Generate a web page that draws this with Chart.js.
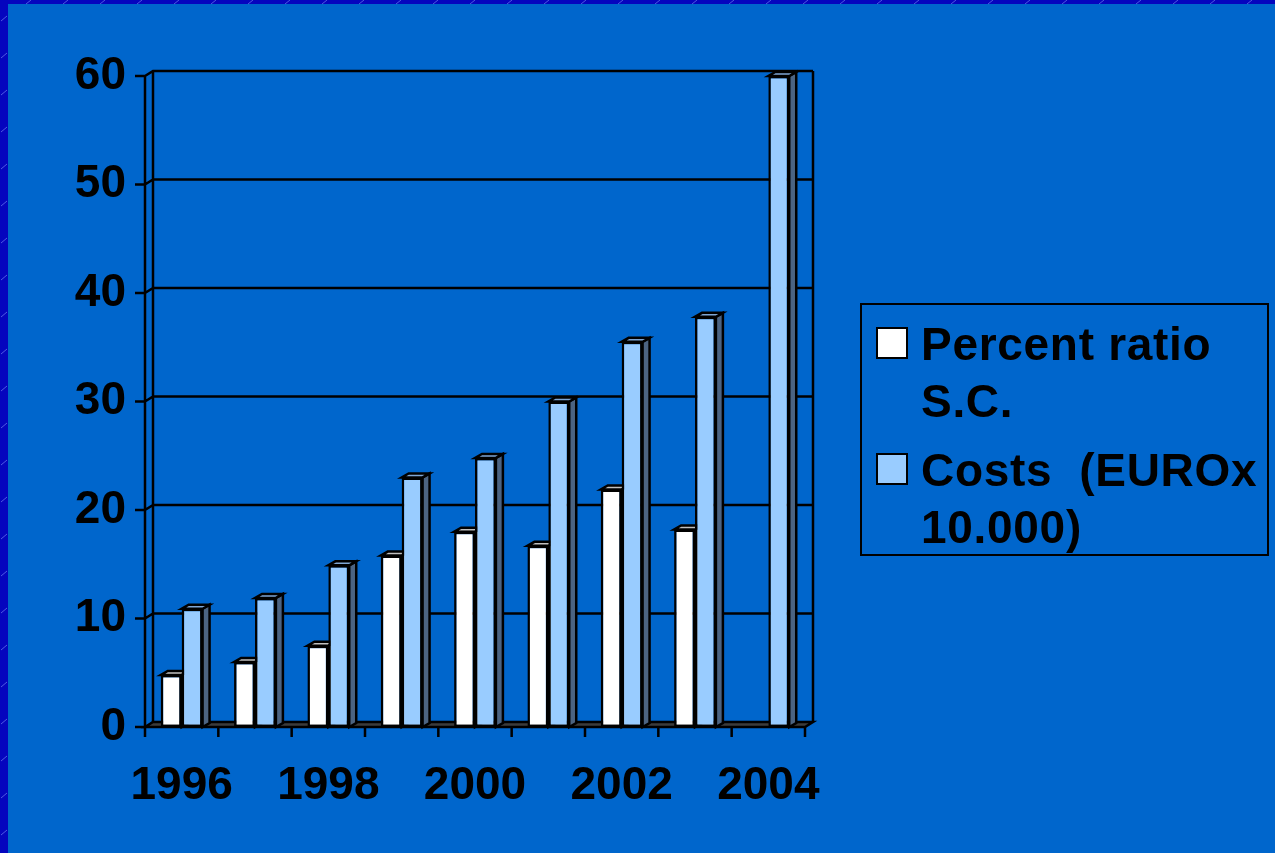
<!DOCTYPE html>
<html>
<head>
<meta charset="utf-8">
<script src="https://cdn.jsdelivr.net/npm/chart.js@4.4.1/dist/chart.umd.min.js"></script>
<style>
  html, body { margin: 0; padding: 0; background: #0066CC; overflow: hidden; }
  #wrap { width: 1275px; height: 853px; }
</style>
</head>
<body>
<div id="wrap"><canvas id="c" width="1275" height="853"></canvas></div>
<script>
// ---- data ----
const categories = ['1996','1997','1998','1999','2000','2001','2002','2003','2004'];
const xTickLabels = ['1996','','1998','','2000','','2002','','2004'];
const percentRatioSC = [4.8, 6.0, 7.5, 15.8, 18.0, 16.7, 21.9, 18.2, null];
const costsEuro10k = [10.9, 11.9, 14.9, 23.0, 24.8, 30.0, 35.5, 37.8, 60.0];
const seriesNames = ['Percent ratio S.C.', 'Costs  (EUROx 10.000)'];
const legendLines = [['Percent ratio', 'S.C.'], ['Costs  (EUROx', '10.000)']];
const yMin = 0, yMax = 60, yStep = 10;

// ---- styles ----
const FONT = '"Liberation Sans", Arial, Helvetica, sans-serif';
const frontColors = ['#FFFFFF', '#99CCFF'];
const topColors = ['#C0C0C0', '#7FA6D4'];
const sideColors = ['#A0A0A0', '#4C6482'];
const LW = 2.5;

const threeD = {
  id: 'threeD',
  beforeDraw(chart) {
    const ctx = chart.ctx;
    const W = chart.width, H = chart.height;
    ctx.save();
    ctx.fillStyle = '#0066CC';
    ctx.fillRect(0, 0, W, H);
    ctx.fillStyle = '#0505BE';
    ctx.fillRect(0, 0, 8, H);
    ctx.fillRect(0, 0, W, 4);
    ctx.strokeStyle = 'rgba(140,160,255,0.55)';
    ctx.lineWidth = 1;
    ctx.beginPath();
    for (let y = 18; y < H; y += 37) { ctx.moveTo(1, y + 3); ctx.lineTo(7, y - 2); }
    for (let x = 26; x < W; x += 37) { ctx.moveTo(x, 4); ctx.lineTo(x + 5, 0); }
    ctx.stroke();
    ctx.restore();
  },
  beforeDatasetsDraw(chart) {
    const ctx = chart.ctx;
    const { left, right, top, bottom } = chart.chartArea;
    const ys = chart.scales.y, xs = chart.scales.x;
    const WX = 8, WY = -5;
    ctx.save();
    ctx.strokeStyle = '#000';
    ctx.lineWidth = LW;
    ctx.lineJoin = 'miter';
    // floor
    ctx.beginPath();
    ctx.moveTo(left, bottom); ctx.lineTo(right, bottom);
    ctx.lineTo(right + WX, bottom + WY); ctx.lineTo(left + WX, bottom + WY);
    ctx.closePath();
    ctx.fillStyle = '#3C3C3C';
    ctx.fill(); ctx.stroke();
    // gridlines on back wall + tick marks on left axis
    ctx.beginPath();
    ys.ticks.forEach(t => {
      const py = ys.getPixelForValue(t.value);
      ctx.moveTo(left - 10, py); ctx.lineTo(left, py);
      if (t.value > yMin) {
        ctx.moveTo(left, py); ctx.lineTo(left + WX, py + WY);
        ctx.lineTo(right + WX, py + WY);
      }
    });
    // walls
    ctx.moveTo(left, top); ctx.lineTo(left, bottom);
    ctx.moveTo(left + WX, top + WY); ctx.lineTo(left + WX, bottom + WY);
    ctx.moveTo(right + WX, top + WY); ctx.lineTo(right + WX, bottom + WY);
    // x tick marks at category boundaries
    const n = categories.length;
    const cw = (xs.getPixelForValue(n - 1) - xs.getPixelForValue(0)) / (n - 1);
    for (let i = 0; i <= n; i++) {
      const px = xs.getPixelForValue(0) - cw / 2 + i * cw;
      ctx.moveTo(px, bottom); ctx.lineTo(px, bottom + 10);
    }
    ctx.stroke();
    // 3D depth faces of bars
    const BX = 7, BY = -4;
    chart.data.datasets.forEach((ds, d) => {
      const meta = chart.getDatasetMeta(d);
      meta.data.forEach((el, i) => {
        if (ds.data[i] === null || ds.data[i] === undefined) return;
        const x0 = el.x - el.width / 2, x1 = el.x + el.width / 2;
        const yt = el.y, yb = el.base;
        ctx.beginPath();
        ctx.moveTo(x1, yt); ctx.lineTo(x1 + BX, yt + BY);
        ctx.lineTo(x1 + BX, yb + BY); ctx.lineTo(x1, yb);
        ctx.closePath();
        ctx.fillStyle = sideColors[d]; ctx.fill(); ctx.stroke();
        ctx.beginPath();
        ctx.moveTo(x0, yt); ctx.lineTo(x1, yt);
        ctx.lineTo(x1 + BX, yt + BY); ctx.lineTo(x0 + BX, yt + BY);
        ctx.closePath();
        ctx.fillStyle = topColors[d]; ctx.fill(); ctx.stroke();
      });
    });
    ctx.restore();
  },
  afterDraw(chart) {
    const ctx = chart.ctx;
    ctx.save();
    ctx.strokeStyle = '#000';
    ctx.lineWidth = 2;
    ctx.strokeRect(861, 304, 407, 251);
    ctx.font = 'bold 46px ' + FONT;
    if ('letterSpacing' in ctx) ctx.letterSpacing = '0.7px';
    ctx.textBaseline = 'alphabetic';
    ctx.textAlign = 'left';
    const itemTop = [328, 454];
    chart.data.datasets.forEach((ds, d) => {
      const sy = itemTop[d];
      ctx.fillStyle = ds.backgroundColor;
      ctx.fillRect(877, sy, 30, 30);
      ctx.lineWidth = 2;
      ctx.strokeRect(877, sy, 30, 30);
      ctx.fillStyle = '#000';
      legendLines[d].forEach((line, k) => {
        ctx.fillText(line, 921, sy + 32 + k * 57);
      });
    });
    ctx.restore();
  }
};

new Chart(document.getElementById('c'), {
  type: 'bar',
  data: {
    labels: categories,
    datasets: [
      { label: seriesNames[0], data: percentRatioSC, backgroundColor: frontColors[0],
        borderColor: '#000', borderWidth: LW, borderSkipped: false },
      { label: seriesNames[1], data: costsEuro10k, backgroundColor: frontColors[1],
        borderColor: '#000', borderWidth: LW, borderSkipped: false }
    ]
  },
  options: {
    responsive: false,
    animation: false,
    devicePixelRatio: 1,
    layout: { padding: { left: 0, right: 470, top: 76, bottom: 0 } },
    datasets: { bar: { categoryPercentage: 0.57, barPercentage: 1.0 } },
    plugins: { legend: { display: false }, tooltip: { enabled: false } },
    scales: {
      x: {
        grid: { display: false },
        border: { display: false },
        ticks: {
          autoSkip: false, maxRotation: 0, minRotation: 0, padding: 24,
          color: '#000', font: { family: FONT, size: 46, weight: 'bold' },
          callback: (v, i) => xTickLabels[i]
        },
        afterFit: s => { s.height = 126; }
      },
      y: {
        min: yMin, max: yMax,
        grid: { display: false },
        border: { display: false },
        ticks: {
          stepSize: yStep, padding: 11,
          color: '#000', font: { family: FONT, size: 46, weight: 'bold' }
        },
        afterFit: s => { s.width = 145; }
      }
    }
  },
  plugins: [threeD]
});
</script>
</body>
</html>
